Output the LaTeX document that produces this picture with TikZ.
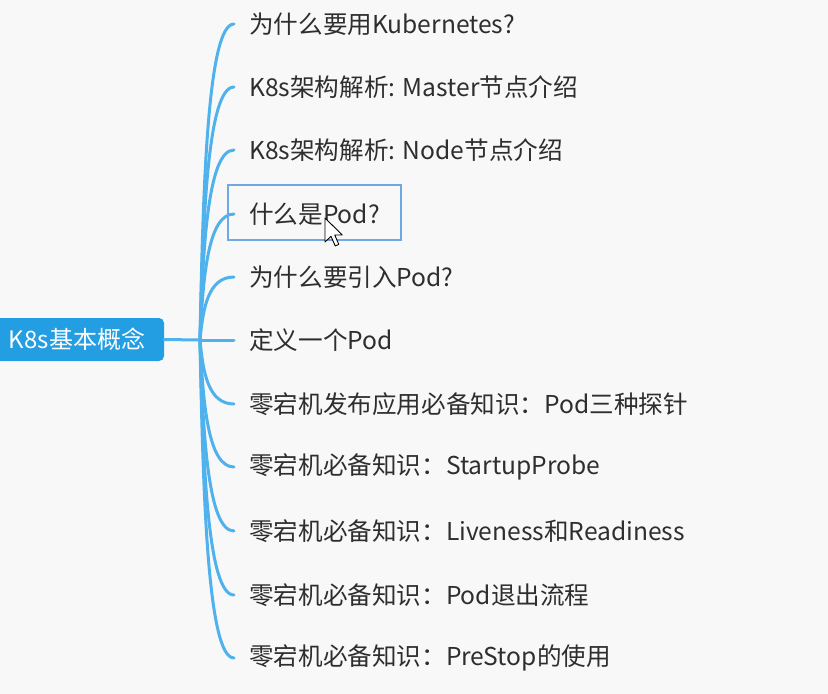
\documentclass[tikz,border=0pt]{standalone}
\usepackage{fontspec}
\setmainfont{Noto Sans CJK SC}
\definecolor{bgc}{HTML}{F8F8F9}
\definecolor{linec}{HTML}{4FB2EC}
\definecolor{rootc}{HTML}{239EE2}
\definecolor{txtc}{HTML}{2E2E2E}
\definecolor{selc}{HTML}{6FA8E2}
\tikzset{
  rootbox/.style={fill=rootc, rounded corners=5pt, text=white, inner sep=0pt,
    minimum width=174pt, minimum height=43pt, font=\fontsize{24}{28}\selectfont},
  itembox/.style={anchor=west, inner xsep=15pt, inner ysep=0pt, text=txtc,
    font=\fontsize{24.6}{28}\selectfont},
  branch/.style={draw=linec, line width=3pt, line cap=round},
  selbox/.style={draw=selc, line width=2pt},
}
\begin{document}
\begin{tikzpicture}[x=1pt,y=-1pt]
\fill[bgc] (0,0) rectangle (828,694);
\useasboundingbox (0,0) rectangle (828,694);
\node[rootbox] (root) at (77,339.5) {K8s基本概念};
\coordinate (trunk) at (200,340);
\draw[branch] (root.east) -- (trunk);
\foreach \i/\y/\t in {
  1/24/{为什么要用Kubernetes?},
  2/87/{K8s架构解析: Master节点介绍},
  3/150/{K8s架构解析: Node节点介绍},
  4/214/{什么是Pod?},
  5/277/{为什么要引入Pod?},
  6/340/{定义一个Pod},
  7/404/{零宕机发布应用必备知识：Pod三种探针},
  8/467/{零宕机必备知识：StartupProbe},
  9/531/{零宕机必备知识：Liveness和Readiness},
  10/595/{零宕机必备知识：Pod退出流程},
  11/658/{零宕机必备知识：PreStop的使用}}{
  \node[itembox] (n\i) at (234,\y) {\t};
  \draw[branch] (trunk) .. controls (203,{(340+\y)/2}) and (208,\y) .. (n\i.west);
}
\draw[selbox] (228,185) rectangle (401,240);
\draw[fill=white, draw=black, line width=0.9pt, line join=round, shift={(325,218)}, scale=1.5]
  (0,0) -- (0,16) -- (4,12.2) -- (6.8,18.6) -- (9.2,17.6) -- (6.5,11.3) -- (11.5,11.3) -- cycle;
\end{tikzpicture}
\end{document}
